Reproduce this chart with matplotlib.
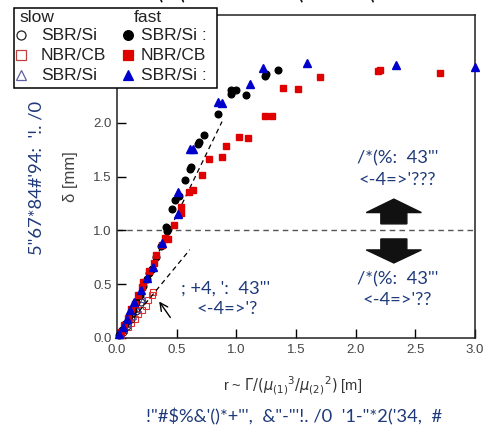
import matplotlib
matplotlib.use("Agg")
import matplotlib.pyplot as plt
from matplotlib.patches import Polygon, Rectangle
from matplotlib.lines import Line2D

# ---------------- data ----------------
fast_sbr_x = [1.35, 1.25, 1.24, 0.955, 0.955, 1.00, 1.08, 0.846, 0.73, 0.687, 0.678,
              0.622, 0.61, 0.569, 0.52, 0.49, 0.46, 0.41, 0.43,
              0.42, 0.37, 0.33, 0.29, 0.27, 0.25, 0.22, 0.19, 0.16, 0.13, 0.10, 0.07, 0.04, 0.02]
fast_sbr_y = [2.49, 2.45, 2.43, 2.30, 2.27, 2.30, 2.26, 2.08, 1.89, 1.82, 1.80,
              1.59, 1.57, 1.47, 1.32, 1.28, 1.20, 1.03, 1.01,
              0.99, 0.85, 0.75, 0.64, 0.60, 0.55, 0.48, 0.40, 0.33, 0.26, 0.20, 0.13, 0.07, 0.03]

fast_nbr_x = [2.71, 2.19, 2.20, 1.70, 1.395, 1.52, 1.24, 1.30, 1.02, 1.10, 0.91, 0.88,
              0.77, 0.71, 0.60, 0.64, 0.54, 0.54, 0.48, 0.43,
              0.40, 0.38, 0.33, 0.31, 0.27, 0.22, 0.21, 0.18, 0.15, 0.12, 0.09, 0.06, 0.03]
fast_nbr_y = [2.46, 2.48, 2.49, 2.42, 2.32, 2.31, 2.06, 2.06, 1.87, 1.86, 1.78, 1.68,
              1.66, 1.51, 1.36, 1.37, 1.22, 1.16, 1.05, 0.92,
              0.93, 0.86, 0.77, 0.70, 0.62, 0.52, 0.47, 0.40, 0.32, 0.27, 0.19, 0.12, 0.06]

fast_sbr2_x = [3.00, 2.34, 1.59, 1.22, 1.115, 0.85, 0.88, 0.61, 0.64, 0.515, 0.51,
               0.38, 0.30, 0.25, 0.20, 0.14, 0.11, 0.08, 0.05, 0.02]
fast_sbr2_y = [2.52, 2.54, 2.55, 2.51, 2.36, 2.19, 2.18, 1.76, 1.76, 1.36, 1.15,
               0.88, 0.66, 0.56, 0.45, 0.33, 0.26, 0.18, 0.10, 0.04]

slow_nbr_x = [0.305, 0.29, 0.26, 0.24, 0.21, 0.18, 0.15, 0.12, 0.09, 0.06, 0.03]
slow_nbr_y = [0.43, 0.40, 0.35, 0.30, 0.26, 0.22, 0.18, 0.14, 0.10, 0.07, 0.03]

slow_sbr_x = [0.20, 0.16, 0.12, 0.08, 0.05, 0.02]
slow_sbr_y = [0.33, 0.25, 0.18, 0.11, 0.06, 0.02]

slow_sbr2_x = [0.22, 0.17, 0.13, 0.09, 0.06, 0.03]
slow_sbr2_y = [0.36, 0.27, 0.20, 0.13, 0.08, 0.04]

fit_fast_x = [0.0, 0.88]
fit_fast_y = [0.0, 2.01]
fit_slow_x = [0.0, 0.61]
fit_slow_y = [0.0, 0.82]

xticks = [0.0, 0.5, 1.0, 1.5, 2.0, 2.5, 3.0]
yticks = [0.0, 0.5, 1.0, 1.5, 2.0]

# ---------------- figure ----------------
W, H = 492, 425
fig = plt.figure(figsize=(W / 100, H / 100), dpi=100)
fx = lambda px: px / W
fy = lambda py: 1 - py / H

ax = fig.add_axes([fx(117), fy(338), fx(475) - fx(117), fy(15) - fy(338)])
ax.set_xlim(0, 3.0)
ax.set_ylim(0, 3.0)
ax.set_xticks(xticks)
ax.set_yticks(yticks)
ax.set_xticklabels([f"{t:.1f}" for t in xticks])
ax.set_yticklabels([f"{t:.1f}" for t in yticks])
ax.tick_params(direction="in", length=6.5, width=1.0, labelsize=9.5,
               labelcolor="#444444", pad=4)
for lab in ax.get_xticklabels() + ax.get_yticklabels():
    lab.set_family("Liberation Sans")
for s in ax.spines.values():
    s.set_linewidth(1.1)
    s.set_color("#222222")

navy = "#1f3a7a"
red = "#e00000"
blue = "#0000cc"

# horizontal dashed threshold
ax.axhline(1.0, color="#555555", lw=1.0, ls=(0, (4, 3)), zorder=1)

# fit lines
ax.plot(fit_fast_x, fit_fast_y, color="black", lw=0.9, ls=(0, (4, 3)), zorder=4)
ax.plot(fit_slow_x, fit_slow_y, color="black", lw=0.9, ls=(0, (4, 3)), zorder=4)

# slow (open)
ax.plot(slow_nbr_x, slow_nbr_y, ls="none", marker="s", ms=5, mfc="none",
        mec="#e03030", mew=0.8, zorder=3)
ax.plot(slow_sbr_x, slow_sbr_y, ls="none", marker="o", ms=5, mfc="none",
        mec="#222222", mew=0.8, zorder=3)
ax.plot(slow_sbr2_x, slow_sbr2_y, ls="none", marker="^", ms=5, mfc="none",
        mec="#5050b0", mew=0.8, zorder=3)

# fast (filled)
ax.plot(fast_sbr_x, fast_sbr_y, ls="none", marker="o", ms=4.8, color="black",
        zorder=5, clip_on=False)
ax.plot(fast_nbr_x, fast_nbr_y, ls="none", marker="s", ms=4.5, color=red,
        zorder=5, clip_on=False)
ax.plot(fast_sbr2_x, fast_sbr2_y, ls="none", marker="^", ms=5.5, color=blue,
        zorder=6, clip_on=False)

# arrow pointing at slow data
ax.annotate("", xy=(0.34, 0.36), xytext=(0.46, 0.17),
            arrowprops=dict(arrowstyle="->", color="black", lw=1.0,
                            mutation_scale=14), zorder=7)

# block arrows (up / down)
cx = 2.32
hw, sw = 0.231, 0.109
up = [(cx, 1.29), (cx + hw, 1.165), (cx + sw, 1.165), (cx + sw, 1.06),
      (cx - sw, 1.06), (cx - sw, 1.165), (cx - hw, 1.165)]
dn = [(cx, 0.697), (cx + hw, 0.818), (cx + sw, 0.818), (cx + sw, 0.92),
      (cx - sw, 0.92), (cx - sw, 0.818), (cx - hw, 0.818)]
ax.add_patch(Polygon(up, closed=True, fc="#111111", ec="#111111", zorder=6))
ax.add_patch(Polygon(dn, closed=True, fc="#111111", ec="#111111", zorder=6))

tfont = dict(family=["Lato", "DejaVu Sans"], color=navy, fontsize=13.2,
             ha="center", va="center")
ax.text(2.35, 1.67, "/*(%:  43\"'", **tfont)
ax.text(2.35, 1.47, "<-4=>'???", **tfont)
ax.text(2.35, 0.54, "/*(%:  43\"'", **tfont)
ax.text(2.35, 0.355, "<-4=>'??", **tfont)
ax.text(0.91, 0.455, "; +4, ':  43\"'", **tfont)
ax.text(0.92, 0.265, "<-4=>'?", **tfont)

# axis labels
fig.text(fx(71), fy(177), "δ [mm]", rotation=90, ha="center", va="center",
         fontsize=12, color="#444444", family="Liberation Sans")
fig.text(fx(293), fy(386),
         r"r ~ $\Gamma/(\mu_{(1)}{}^{3}/\mu_{(2)}{}^{2})$ [m]",
         ha="center", va="center", fontsize=10.5, color="#333333",
         family="Liberation Sans")

# outer garbled texts
fig.text(fx(37), fy(178), "5\"67*84#'94:  '!. /0", rotation=90, ha="center",
         va="center", fontsize=13.2, color=navy, family=["Lato", "DejaVu Sans"])
fig.text(fx(294), fy(417), "!\"#$%&'()*+\"',  &\"-\"'!. /0  '1-\"*2('34,  #",
         ha="center", va="center", fontsize=13.2, color=navy,
         family=["Lato", "DejaVu Sans"])
fig.text(fx(300), fy(-5), "'(%'(  ▬▬▬▬▬▬  '(  ▬▬▬  '(  ▬▬▬▬",
         ha="center", va="center", fontsize=12, color="#111111",
         family=["Lato", "DejaVu Sans"], fontweight="bold")

# manual legend box
box = Rectangle((fx(14), fy(88)), fx(217) - fx(14), fy(8) - fy(88),
                transform=fig.transFigure, fc="white", ec="black", lw=1.1,
                zorder=10)
fig.patches.append(box)
lfont = dict(fontsize=12.5, color="#222222", family="Liberation Sans",
             va="center", ha="left", zorder=11)
fig.text(fx(19), fy(17), "slow", **lfont)
fig.text(fx(134), fy(17), "fast", **lfont)
rows = [35, 55, 75]
slow_labels = ["SBR/Si", "NBR/CB", "SBR/Si"]
fast_labels = ["SBR/Si :", "NBR/CB", "SBR/Si :"]
slow_styles = [dict(marker="o", mfc="none", mec="#222222"),
               dict(marker="s", mfc="none", mec="#c04040"),
               dict(marker="^", mfc="none", mec="#6060a0")]
fast_styles = [dict(marker="o", mfc="black", mec="black"),
               dict(marker="s", mfc=red, mec=red),
               dict(marker="^", mfc=blue, mec=blue)]
for r, sl, fl, ss, fs in zip(rows, slow_labels, fast_labels, slow_styles, fast_styles):
    fig.add_artist(Line2D([fx(21)], [fy(r)], transform=fig.transFigure, ls="none",
                          ms=6.5, mew=0.9, zorder=11, **ss))
    fig.text(fx(41), fy(r), sl, **lfont)
    fig.add_artist(Line2D([fx(128)], [fy(r)], transform=fig.transFigure, ls="none",
                          ms=7, mew=0.9, zorder=11, **fs))
    t = fig.text(fx(141), fy(r), fl, **lfont)
    t.set_clip_path(box)

fig.savefig("out.png", dpi=100)
